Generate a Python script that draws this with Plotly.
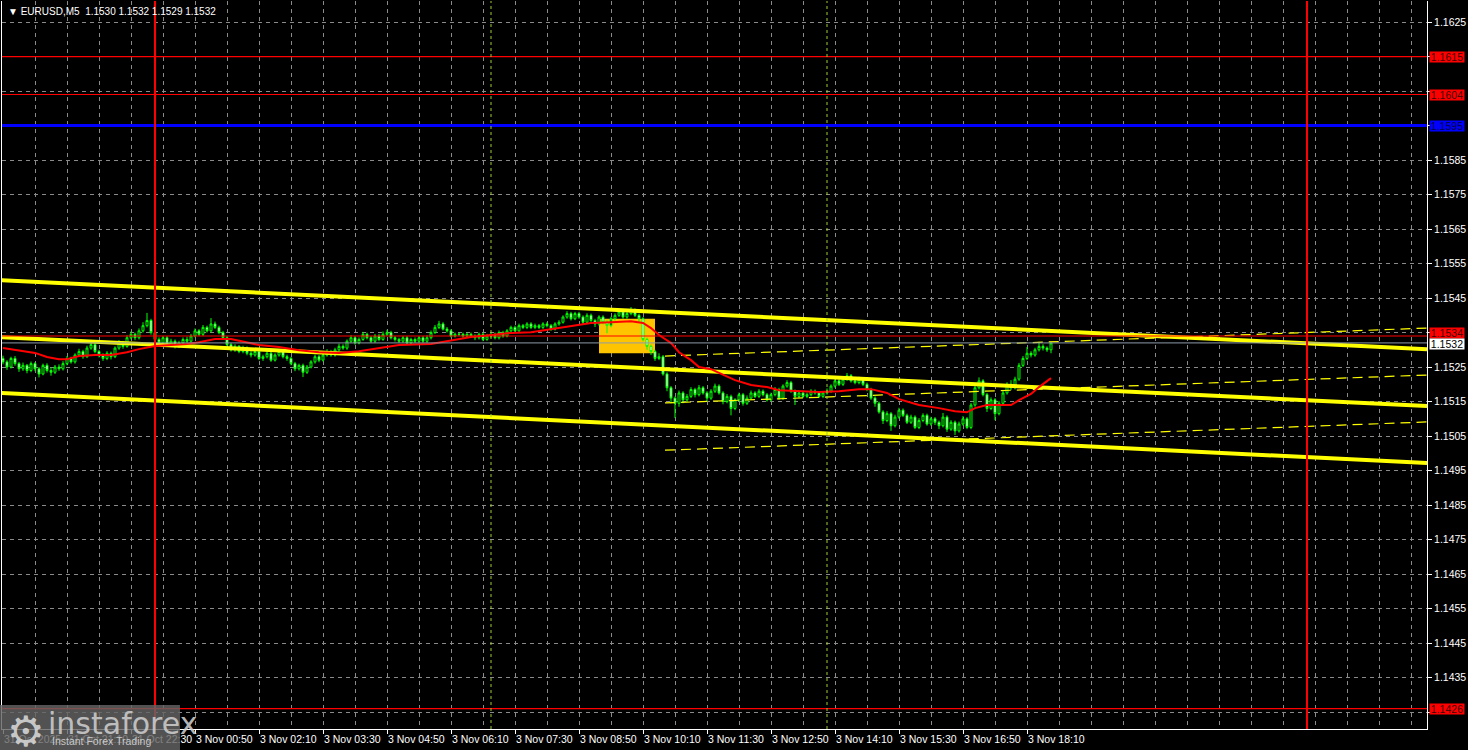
import plotly.graph_objects as go

# ---------------- data (prices stored as pips above BASE) ----------------
BASE = 1.1500
PIP = 0.0001

open_pips = [
    27.5, 26.5, 25.0, 27.5, 26.0, 24.5, 25.5, 24.0,
    26.0, 24.5, 23.0, 25.5, 24.0, 23.5, 25.0, 24.5,
    26.0, 27.5, 26.5, 28.5, 29.5, 28.0, 30.5, 31.5,
    29.5, 28.5, 27.5, 29.0, 28.0, 30.5, 32.0, 31.0,
    33.5, 34.5, 33.5, 35.5, 37.0, 38.5,
    35.0, 33.0, 32.0, 33.5, 31.5, 32.5, 31.0, 32.0, 33.0, 32.5,
    34.0, 35.5, 34.5, 36.5, 35.5, 37.5, 36.5, 35.0,
    33.5, 31.5, 30.0, 31.0, 29.5, 30.5,
    29.0, 28.5, 29.5, 27.5, 28.0, 29.0, 27.0, 28.5, 29.5, 28.0,
    27.5, 26.0, 24.5, 25.5, 23.5,
    25.0, 26.5, 28.0, 27.0, 28.5, 29.5, 28.5, 30.0, 31.0,
    30.5, 32.5, 33.5, 32.0, 33.0, 34.5, 33.5, 32.5, 34.0, 33.0, 34.5, 35.0, 33.5,
    33.0, 32.5, 33.5, 32.0, 33.0, 32.5, 33.5, 32.5,
    33.5, 35.0, 36.5, 37.5, 36.0, 35.5,
    34.0, 34.5, 34.5, 34.0, 34.5, 34.0, 33.5, 34.5, 33.0,
    34.0, 34.5, 33.5, 35.0, 34.0,
    35.5, 36.5, 35.5, 37.0, 36.5, 37.5,
    36.5, 37.0, 36.5, 37.5, 37.0, 36.0, 37.5,
    38.0, 39.5, 40.5, 39.0, 40.5,
    39.5, 38.0, 40.0, 38.5, 37.5,
    39.5, 38.0, 37.0,
    39.0, 40.0, 41.0, 39.5, 40.5, 41.5, 40.0,
    39.0,
    33.0, 31.0,
    29.5, 27.5,
    28.0, 23.0,
    19.0, 16.0, 14.5, 17.5, 15.5,
    16.5, 18.5, 17.0, 19.0, 17.5, 16.0, 18.0, 19.5,
    17.5, 15.0, 16.5, 13.0, 15.5, 17.0, 14.5,
    16.0, 17.5, 16.5, 18.0, 17.0, 15.5,
    17.0, 18.5, 16.0, 19.5, 20.5, 18.0,
    16.5, 17.5, 16.5, 17.0, 18.0, 17.5, 16.5, 17.5,
    18.0, 19.5, 21.0, 20.0, 21.5, 22.5, 21.0,
    20.5, 21.5, 20.0, 18.5, 16.0,
    14.5, 12.0, 9.5, 11.5, 8.0,
    10.5, 12.5, 11.0, 9.0, 10.5, 7.5, 9.5, 11.0, 8.5, 10.0,
    9.0, 8.0, 10.5, 7.0, 9.0,
    6.5, 8.5, 10.0,
    7.5, 14.0, 19.0,
    21.0, 17.0, 13.0, 15.5,
    11.5, 14.5, 17.5,
    20.0, 19.0, 21.5,
    25.5, 27.5, 29.0, 28.5,
    30.0, 31.0, 30.5, 30.0,
]

high_pips = [
    28.3, 27.0, 28.0, 28.2, 26.5, 26.3, 25.9, 26.6,
    26.4, 25.0, 26.0, 26.1, 24.8, 25.6, 25.8, 26.7,
    28.2, 28.0, 29.0, 30.3, 30.0, 31.2, 32.3, 32.0,
    30.0, 29.0, 29.6, 29.5, 31.0, 32.8, 32.6, 34.2,
    35.3, 35.0, 36.2, 38.0, 40.7, 39.0,
    35.4, 33.6, 34.0, 34.0, 33.2, 33.0, 32.6, 33.6, 33.8, 34.6,
    36.2, 36.0, 37.2, 37.0, 39.2, 38.2, 37.0, 35.5,
    34.0, 32.0, 31.6, 31.4, 31.2, 31.0,
    29.6, 30.2, 30.0, 28.6, 29.6, 29.4, 29.0, 30.2, 30.0, 28.6,
    28.0, 26.5, 26.0, 26.0, 25.6,
    27.0, 28.6, 28.5, 29.0, 30.2, 30.0, 30.6, 31.8, 31.6,
    33.0, 34.2, 34.0, 33.6, 35.2, 35.0, 34.0, 34.6, 34.6, 35.3, 35.8, 35.5, 34.0,
    33.5, 34.0, 34.0, 33.5, 33.6, 34.0, 34.0, 34.2,
    35.6, 37.2, 38.4, 38.0, 36.6, 36.0,
    35.0, 35.0, 35.0, 35.0, 35.0, 34.5, 35.0, 35.0, 34.6,
    35.0, 35.0, 35.6, 35.5, 36.0,
    37.0, 37.0, 37.6, 37.5, 38.0, 38.0,
    37.6, 37.5, 38.0, 38.0, 37.5, 38.0, 38.6,
    40.0, 41.2, 41.0, 41.0, 41.0,
    40.0, 40.6, 40.5, 39.0, 40.0,
    40.0, 38.5, 39.6,
    40.6, 41.8, 41.5, 41.0, 42.4, 42.0, 40.5,
    39.5,
    33.5, 31.5,
    30.0, 29.0,
    28.5, 23.5,
    19.5, 16.5, 18.2, 18.0, 17.2,
    19.2, 19.0, 19.8, 19.5, 18.0, 18.6, 20.2, 20.0,
    18.0, 17.2, 17.0, 16.0, 17.6, 17.5, 16.8,
    18.2, 18.0, 18.6, 18.5, 17.5, 17.6,
    19.2, 19.0, 20.0, 21.2, 21.0, 18.5,
    18.2, 18.0, 17.6, 18.6, 18.5, 18.0, 18.0, 18.8,
    20.0, 21.6, 21.5, 22.2, 23.3, 23.0, 21.6,
    22.2, 22.0, 20.5, 19.0, 16.5,
    15.0, 12.5, 12.2, 12.0, 11.2,
    13.2, 13.0, 11.5, 11.2, 11.0, 10.2, 11.6, 11.5, 10.6, 10.5,
    9.5, 11.7, 11.0, 9.6, 9.5,
    9.2, 10.8, 10.5,
    14.6, 20.0, 22.0,
    21.5, 17.5, 16.2, 16.0,
    15.2, 18.2, 20.6,
    21.2, 22.2, 26.2,
    28.2, 30.8, 29.6, 30.6,
    32.3, 31.6, 31.0, 32.0,
]

low_pips = [
    25.8, 24.2, 24.6, 25.4, 23.6, 23.9, 23.2, 23.5,
    23.8, 22.0, 22.6, 23.4, 22.5, 23.0, 23.9, 24.0,
    25.5, 26.0, 26.0, 28.0, 27.4, 27.6, 30.0, 29.0,
    27.8, 26.8, 27.0, 27.2, 27.6, 30.0, 30.3, 30.6,
    33.0, 32.8, 33.0, 35.0, 36.5, 34.4,
    32.5, 31.4, 31.6, 31.0, 30.8, 30.4, 30.5, 31.5, 32.0, 32.0,
    33.6, 34.0, 34.0, 35.0, 35.0, 36.0, 34.5, 33.0,
    31.0, 29.5, 29.4, 29.0, 29.0, 28.4,
    27.8, 28.0, 27.0, 26.8, 27.5, 26.5, 26.6, 28.0, 27.5, 26.8,
    25.5, 23.8, 24.0, 22.1, 23.0,
    24.6, 26.0, 26.4, 26.6, 28.0, 28.0, 28.0, 29.6, 30.0,
    30.0, 32.0, 31.5, 31.6, 32.6, 33.0, 32.0, 32.0, 32.5, 32.6, 34.0, 33.0, 32.4,
    32.0, 32.0, 31.6, 31.5, 32.0, 32.0, 32.0, 32.0,
    33.0, 34.6, 36.0, 35.6, 35.0, 33.6,
    33.6, 34.0, 33.5, 33.6, 33.5, 32.8, 33.0, 32.5, 32.6,
    33.5, 33.0, 33.0, 33.5, 33.6,
    35.0, 35.0, 35.0, 36.0, 36.0, 36.0,
    36.0, 36.0, 36.0, 36.5, 35.5, 35.6, 37.0,
    37.6, 39.0, 38.5, 38.6, 39.0,
    37.5, 37.5, 38.0, 36.6, 37.0,
    37.4, 34.8, 36.5,
    38.5, 39.5, 39.0, 39.0, 40.0, 39.5, 38.0,
    32.5,
    30.0, 28.5,
    26.8, 27.0,
    22.5, 18.0,
    14.5, 10.2, 13.5, 14.5, 14.8,
    16.0, 16.2, 16.5, 17.0, 15.0, 15.5, 17.5, 17.0,
    14.2, 14.5, 11.0, 12.5, 15.0, 13.8, 14.0,
    15.5, 16.0, 16.0, 16.5, 15.0, 15.0,
    16.5, 15.5, 15.5, 19.0, 17.5, 14.0,
    16.0, 16.0, 16.0, 16.5, 17.0, 16.0, 16.0, 17.0,
    17.5, 19.0, 19.5, 19.5, 21.0, 20.5, 20.0,
    20.0, 19.5, 18.0, 15.5, 13.5,
    11.5, 8.5, 9.0, 6.5, 7.5,
    10.0, 10.5, 8.5, 8.5, 7.0, 7.0, 9.0, 8.0, 8.0, 8.2,
    7.0, 7.5, 6.2, 6.5, 5.3,
    6.0, 8.0, 7.0,
    7.0, 13.5, 18.5,
    16.5, 12.0, 12.5, 9.6,
    11.0, 14.0, 17.0,
    18.3, 18.5, 21.0,
    25.0, 27.0, 27.8, 28.0,
    29.5, 29.8, 29.4, 29.0,
]

close_pips = [
    26.5, 25.0, 27.5, 26.0, 24.5, 25.5, 24.0, 26.0,
    24.5, 23.0, 25.5, 24.0, 23.5, 25.0, 24.5, 26.0,
    27.5, 26.5, 28.5, 29.5, 28.0, 30.5, 31.5, 29.5,
    28.5, 27.5, 29.0, 28.0, 30.5, 32.0, 31.0, 33.5,
    34.5, 33.5, 35.5, 37.0, 38.5, 35.0,
    33.0, 32.0, 33.5, 31.5, 32.5, 31.0, 32.0, 33.0, 32.5, 34.0,
    35.5, 34.5, 36.5, 35.5, 37.5, 36.5, 35.0, 33.5,
    31.5, 30.0, 31.0, 29.5, 30.5, 29.0,
    28.5, 29.5, 27.5, 28.0, 29.0, 27.0, 28.5, 29.5, 28.0, 27.5,
    26.0, 24.5, 25.5, 23.5, 25.0,
    26.5, 28.0, 27.0, 28.5, 29.5, 28.5, 30.0, 31.0, 30.5,
    32.5, 33.5, 32.0, 33.0, 34.5, 33.5, 32.5, 34.0, 33.0, 34.5, 35.0, 33.5, 33.0,
    32.5, 33.5, 32.0, 33.0, 32.5, 33.5, 32.5, 33.5,
    35.0, 36.5, 37.5, 36.0, 35.5, 34.0,
    34.5, 34.5, 34.0, 34.5, 34.0, 33.5, 34.5, 33.0, 34.0,
    34.5, 33.5, 35.0, 34.0, 35.5,
    36.5, 35.5, 37.0, 36.5, 37.5, 36.5,
    37.0, 36.5, 37.5, 37.0, 36.0, 37.5, 38.0,
    39.5, 40.5, 39.0, 40.5, 39.5,
    38.0, 40.0, 38.5, 37.5, 39.5,
    38.0, 37.0, 39.0,
    40.0, 41.0, 39.5, 40.5, 41.5, 40.0, 39.0,
    33.0,
    31.0, 29.5,
    27.5, 28.0,
    23.0, 19.0,
    16.0, 14.5, 17.5, 15.5, 16.5,
    18.5, 17.0, 19.0, 17.5, 16.0, 18.0, 19.5, 17.5,
    15.0, 16.5, 13.0, 15.5, 17.0, 14.5, 16.0,
    17.5, 16.5, 18.0, 17.0, 15.5, 17.0,
    18.5, 16.0, 19.5, 20.5, 18.0, 16.5,
    17.5, 16.5, 17.0, 18.0, 17.5, 16.5, 17.5, 18.0,
    19.5, 21.0, 20.0, 21.5, 22.5, 21.0, 20.5,
    21.5, 20.0, 18.5, 16.0, 14.5,
    12.0, 9.5, 11.5, 8.0, 10.5,
    12.5, 11.0, 9.0, 10.5, 7.5, 9.5, 11.0, 8.5, 10.0, 9.0,
    8.0, 10.5, 7.0, 9.0, 6.5,
    8.5, 10.0, 7.5,
    14.0, 19.0, 21.0,
    17.0, 13.0, 15.5, 11.5,
    14.5, 17.5, 20.0,
    19.0, 21.5, 25.5,
    27.5, 29.0, 28.5, 30.0,
    31.0, 30.5, 30.0, 32.0,
]

# moving average : bar index -> pips
ma_bars = [0, 5, 8, 11, 14, 16, 19, 23, 27, 31, 34, 38, 42, 46, 49, 53, 57, 61,
           64, 69, 74, 79, 84, 89, 94, 99, 107, 112, 117, 122, 127, 132, 137,
           142, 147, 152, 157, 160, 162, 164, 167, 169, 172, 174, 177, 179, 183,
           187, 191, 194, 199, 204, 209, 214, 217, 221, 224, 229, 234, 238, 241,
           243, 246, 249, 252, 254, 257, 259, 262]
ma_pips = [30.5, 29.6, 29.1, 27.9, 27.3, 27.3, 28.2, 28.5, 28.5, 29.3, 30.2, 31.1,
           31.4, 31.7, 32.2, 33.1, 33.1, 32.2, 31.4, 30.8, 29.9, 29.3, 29.1, 29.6,
           30.5, 31.4, 31.7, 32.8, 33.7, 34.3, 34.9, 35.1, 36.0, 36.9, 37.8, 38.0,
           38.3, 37.8, 36.3, 34.3, 32.0, 29.3, 27.0, 25.0, 24.4, 23.3, 21.2, 19.8,
           19.2, 18.3, 18.0, 17.8, 18.0, 18.6, 18.6, 17.5, 15.7, 14.0, 13.1, 12.2,
           11.9, 13.1, 14.0, 14.0, 14.0, 15.4, 17.2, 19.2, 21.8]

# x-axis labels (every 16 five-minute bars)
tick_labels = ["31 Oct 2025", "31 Oct 21:10", "31 Oct 22:30", "3 Nov 00:50",
               "3 Nov 02:10", "3 Nov 03:30", "3 Nov 04:50", "3 Nov 06:10",
               "3 Nov 07:30", "3 Nov 08:50", "3 Nov 10:10", "3 Nov 11:30",
               "3 Nov 12:50", "3 Nov 14:10", "3 Nov 15:30", "3 Nov 16:50",
               "3 Nov 18:10"]

# price axis labels
price_ticks = [1.1425, 1.1435, 1.1445, 1.1455, 1.1465, 1.1475, 1.1485, 1.1495,
               1.1505, 1.1515, 1.1525, 1.1535, 1.1545, 1.1555, 1.1565, 1.1575,
               1.1585, 1.1595, 1.1605, 1.1615, 1.1625]
hidden_price_labels = [1.1425, 1.1535, 1.1595, 1.1605, 1.1615]

# horizontal levels
red_levels = [1.1615, 1.1604, 1.1534, 1.1426]
blue_level = 1.1595
last_price = 1.1532

# vertical markers (bar indices)
day_separator_bars = [38, 326]
session_bars = [122, 206]

# regression channels: (start bar, end bar), pips at start / end
solid_channel_bars = [-0.75, 356]
solid_channel_start = [50.2, 33.7, 17.5]
solid_channel_end = [30.2, 13.7, -2.8]
dashed_channel_bars = [165.5, 356]
dashed_channel_start = [28.2, 14.6, 0.9]
dashed_channel_end = [36.3, 22.7, 9.1]

# signal zone
zone_bars = [149, 163]
zone_prices = [1.1529, 1.1539]


def px(p):
    return round(BASE + p * PIP, 5)


n = len(close_pips)
bars = list(range(n))
opens = [px(v) for v in open_pips]
highs = [px(v) for v in high_pips]
lows = [px(v) for v in low_pips]
closes = [px(v) for v in close_pips]

GRID = "#8a8a8a"
FONT = "Liberation Sans"

fig = go.Figure()

# solid channel lines
for a, b in zip(solid_channel_start, solid_channel_end):
    fig.add_trace(go.Scatter(x=solid_channel_bars, y=[px(a), px(b)], mode="lines",
                             line=dict(color="#FFFF00", width=4), hoverinfo="skip"))
# dashed channel lines
for a, b in zip(dashed_channel_start, dashed_channel_end):
    fig.add_trace(go.Scatter(x=dashed_channel_bars, y=[px(a), px(b)], mode="lines",
                             line=dict(color="#FFFF00", width=1.2, dash="10px,6px"),
                             hoverinfo="skip"))

fig.add_trace(go.Candlestick(
    x=bars, open=opens, high=highs, low=lows, close=closes,
    increasing=dict(line=dict(color="#00FF00", width=1), fillcolor="#000000"),
    decreasing=dict(line=dict(color="#00FF00", width=1), fillcolor="#FFFFFF"),
    whiskerwidth=0, hoverinfo="skip",
))

fig.add_trace(go.Scatter(x=ma_bars, y=[px(v) for v in ma_pips], mode="lines",
                         line=dict(color="#FF0000", width=2), hoverinfo="skip"))

shapes = []
# signal zone
shapes.append(dict(type="rect", xref="x", yref="y", x0=zone_bars[0], x1=zone_bars[1],
                   y0=zone_prices[0], y1=zone_prices[1], fillcolor="#FFC400",
                   line=dict(width=0), layer="between"))
# levels
for lv in red_levels:
    shapes.append(dict(type="line", xref="paper", yref="y", x0=0, x1=1, y0=lv, y1=lv,
                       line=dict(color="#FF0000", width=1.2)))
shapes.append(dict(type="line", xref="paper", yref="y", x0=0, x1=1, y0=blue_level,
                   y1=blue_level, line=dict(color="#0000FF", width=3)))
shapes.append(dict(type="line", xref="paper", yref="y", x0=0, x1=1, y0=last_price,
                   y1=last_price, line=dict(color="#8C9AAA", width=1)))
# vertical lines
for b in day_separator_bars:
    shapes.append(dict(type="line", xref="x", yref="paper", x0=b, x1=b, y0=0, y1=1,
                       line=dict(color="#FF0000", width=2)))
for b in session_bars:
    shapes.append(dict(type="line", xref="x", yref="paper", x0=b, x1=b, y0=0, y1=1,
                       line=dict(color="#9ACD32", width=1, dash="3px,3px")))
# watermark box
shapes.append(dict(type="rect", xref="paper", yref="paper", x0=-0.0015, x1=0.1249,
                   y0=-0.029, y1=0.033, fillcolor="rgba(100,100,100,0.82)",
                   line=dict(width=0), layer="above"))

annotations = []
annotations.append(dict(xref="paper", yref="paper", x=0.003, y=0.986, xanchor="left",
                        yanchor="middle", showarrow=False,
                        text="▼ EURUSD,M5  1.1530 1.1532 1.1529 1.1532",
                        font=dict(family=FONT, size=10, color="#FFFFFF")))


def marker(val, bg, fg, shift=0):
    return dict(xref="paper", yref="y", x=1, y=val, xanchor="left", yanchor="middle",
                xshift=2, yshift=shift, showarrow=False, text=f"{val:.4f}", bgcolor=bg,
                width=34, height=10, borderpad=0, align="center",
                font=dict(family=FONT, size=10.5, color=fg))


annotations.append(marker(1.1615, "#FF0000", "#400000"))
annotations.append(marker(1.1604, "#FF0000", "#400000"))
annotations.append(marker(1.1534, "#FF0000", "#400000", shift=3))
annotations.append(marker(1.1426, "#FF0000", "#400000"))
annotations.append(marker(blue_level, "#0000FF", "#000040"))
annotations.append(marker(last_price, "#FFFFFF", "#000000", shift=-1))

# watermark text
annotations.append(dict(xref="paper", yref="paper", x=0.002, y=-0.004, xanchor="left",
                        yanchor="middle", showarrow=False, text="⚙",
                        font=dict(family="DejaVu Sans", size=42, color="rgba(215,215,215,0.9)")))
annotations.append(dict(xref="paper", yref="paper", x=0.031, y=0.008, xanchor="left",
                        yanchor="middle", showarrow=False, text="instaforex",
                        font=dict(family="DejaVu Sans", size=30, color="rgba(205,205,205,0.9)")))
annotations.append(dict(xref="paper", yref="paper", x=0.034, y=-0.0165, xanchor="left",
                        yanchor="middle", showarrow=False, text="Instant Forex Trading",
                        font=dict(family=FONT, size=10.5, color="rgba(215,215,215,0.9)")))

fig.update_layout(
    width=1468, height=750,
    margin=dict(l=2, r=41, t=1, b=21, autoexpand=False),
    paper_bgcolor="#000000", plot_bgcolor="#000000",
    showlegend=False,
    shapes=shapes, annotations=annotations,
    xaxis=dict(
        range=[-0.25, 356], rangeslider=dict(visible=False), automargin=False,
        tickmode="array", tickvals=[16 * k for k in range(len(tick_labels))],
        ticktext=tick_labels, ticks="outside", ticklen=4, tickcolor="#FFFFFF",
        ticklabelposition="outside right", tickangle=0,
        tickfont=dict(family=FONT, size=10.5, color="#FFFFFF"),
        showgrid=True, gridcolor=GRID, griddash="4px,4px", gridwidth=1,
        minor=dict(tick0=0, dtick=8, showgrid=True, gridcolor=GRID,
                   griddash="4px,4px", gridwidth=1),
        showline=True, linecolor="#FFFFFF", linewidth=1, zeroline=False,
        fixedrange=True,
    ),
    yaxis=dict(
        range=[1.14201, 1.16311], side="right", automargin=False,
        tickmode="array", tickvals=price_ticks,
        ticktext=["" if t in hidden_price_labels else f"{t:.4f}" for t in price_ticks],
        ticks="outside", ticklen=4, tickcolor="#FFFFFF",
        tickfont=dict(family=FONT, size=10.5, color="#FFFFFF"),
        showgrid=True, gridcolor=GRID, griddash="4px,4px", gridwidth=1,
        showline=True, linecolor="#FFFFFF", linewidth=1, mirror=True,
        zeroline=False, fixedrange=True,
    ),
)

fig.write_html(
    "out.html",
    config={"displayModeBar": False},
    post_script="document.body.style.margin='0';document.body.style.overflow='hidden';"
                "document.documentElement.style.overflow='hidden';",
)
